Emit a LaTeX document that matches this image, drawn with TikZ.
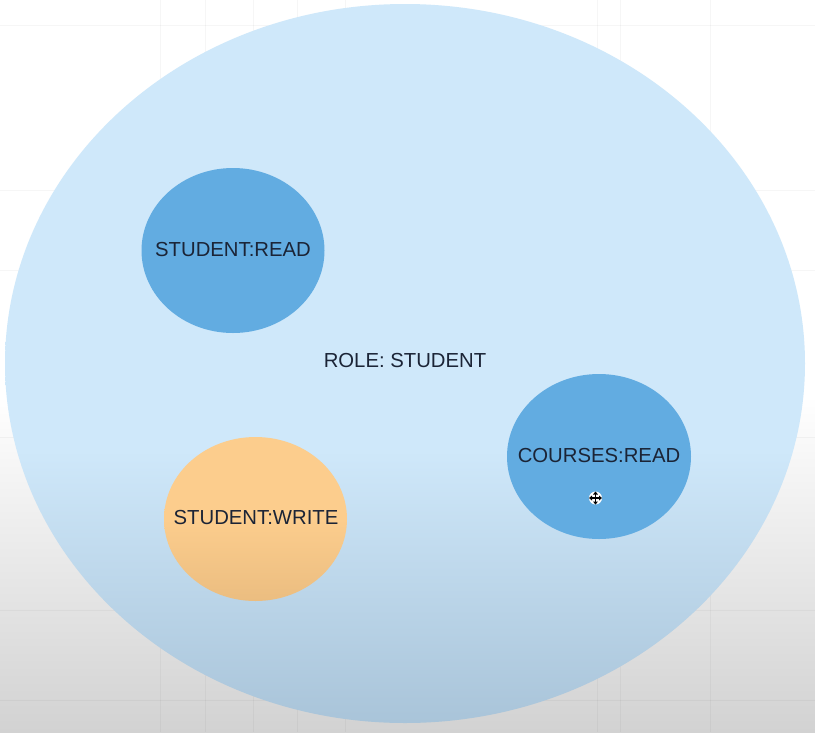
\documentclass[tikz,border=0pt]{standalone}
\usepackage{fontspec}
\setmainfont{Liberation Sans}
\definecolor{elltop}{HTML}{CFE8FA}
\definecolor{ellbot}{HTML}{A9C4D9}
\definecolor{blueell}{HTML}{62ACE1}
\definecolor{orgtop}{HTML}{FCCD8D}
\definecolor{orgbot}{HTML}{EBBD80}
\definecolor{bgbot}{HTML}{D2D2D2}
\definecolor{txt}{HTML}{1B2436}
\begin{document}
\begin{tikzpicture}[x=1pt,y=-1pt,
  lbl/.style={text=txt,font=\fontsize{20.3}{24}\selectfont,inner sep=0pt},
  gridl/.style={black,opacity=0.035,line width=0.8pt}]
\pgfdeclareverticalshading{bigell}{100bp}{color(0bp)=(ellbot); color(25bp)=(ellbot); color(44bp)=(elltop); color(100bp)=(elltop)}
\pgfdeclareverticalshading{bgshade}{100bp}{color(0bp)=(bgbot); color(25bp)=(bgbot); color(48bp)=(white); color(100bp)=(white)}
\useasboundingbox (0,0) rectangle (815,732);
% background
\shade[shading=bgshade] (0,0) rectangle (815,732);
\foreach \yy in {25,190,270,437,610,700} \draw[gridl] (0,\yy) -- (815,\yy);
\foreach \xx in {160,205,253,297,345,597,620,710} \draw[gridl] (\xx,0) -- (\xx,732);
% big role ellipse
\shade[shading=bigell] (405,363.5) ellipse [x radius=400, y radius=359.5];
\node[lbl] (role) at (405,361) {ROLE: STUDENT};
% permissions
\fill[blueell] (233,250.5) ellipse [x radius=91.5, y radius=82.5];
\node[lbl] (sread) at (233,250) {STUDENT:READ};
\fill[blueell] (599,456.5) ellipse [x radius=92, y radius=82.5];
\node[lbl] (cread) at (599,456) {COURSES:READ};
\shade[top color=orgtop,bottom color=orgbot,middle color=orgtop] (255.5,519) ellipse [x radius=91.5, y radius=82];
\node[lbl] (swrite) at (256,518) {STUDENT:WRITE};
% move cursor
\coordinate (cur) at (595.5,498);
\fill[white] (cur) circle (6.5);
\draw[black,line width=1.2pt] ([xshift=-5]cur) -- ([xshift=5]cur);
\draw[black,line width=1.2pt] ([yshift=-5]cur) -- ([yshift=5]cur);
\fill[black] ([xshift=-6.5]cur) -- ([xshift=-3.5,yshift=-2.5]cur) -- ([xshift=-3.5,yshift=2.5]cur) -- cycle;
\fill[black] ([xshift=6.5]cur) -- ([xshift=3.5,yshift=-2.5]cur) -- ([xshift=3.5,yshift=2.5]cur) -- cycle;
\fill[black] ([yshift=-6.5]cur) -- ([yshift=-3.5,xshift=-2.5]cur) -- ([yshift=-3.5,xshift=2.5]cur) -- cycle;
\fill[black] ([yshift=6.5]cur) -- ([yshift=3.5,xshift=-2.5]cur) -- ([yshift=3.5,xshift=2.5]cur) -- cycle;
\end{tikzpicture}
\end{document}
